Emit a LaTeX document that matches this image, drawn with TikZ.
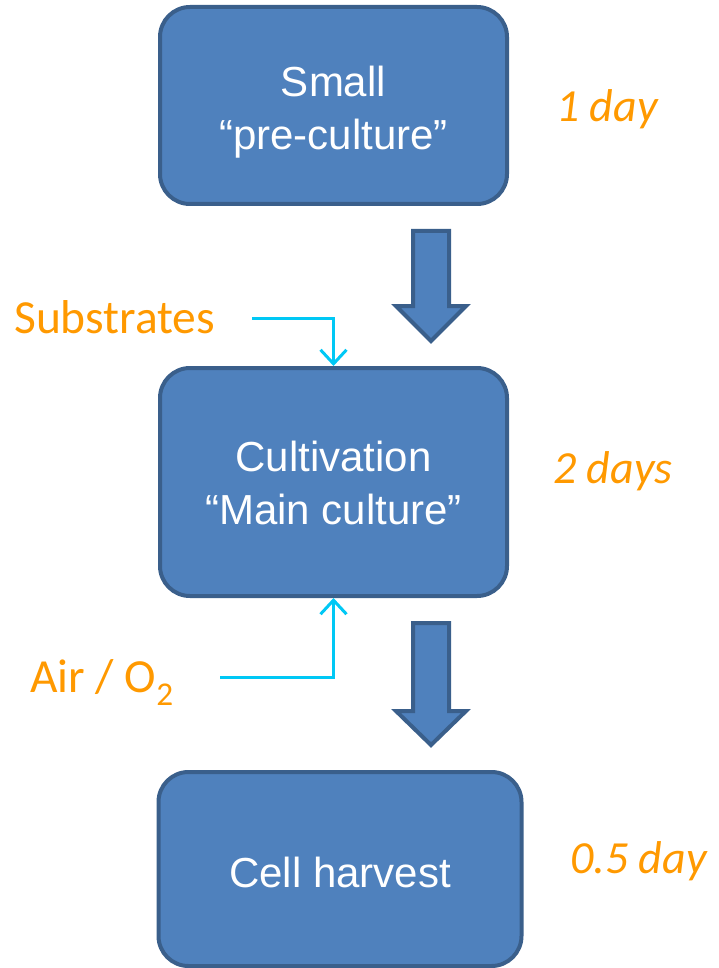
\documentclass[tikz,border=0pt]{standalone}
\usepackage{fontspec}
\setmainfont{Liberation Sans}
\newfontfamily\calib{Carlito}
\usetikzlibrary{arrows.meta}
\definecolor{boxfill}{HTML}{4F81BD}
\definecolor{boxline}{HTML}{3A5F8B}
\definecolor{orng}{HTML}{FF9900}
\definecolor{cyn}{HTML}{00C8F5}
\tikzset{
  stepbox/.style={draw=boxline, line width=4pt, fill=boxfill, rounded corners=30pt, inner sep=0pt},
  boxtext/.style={text=white, align=center, inner sep=0pt, font=\fontsize{42}{53}\selectfont},
  blockarrow/.style={draw=boxline, line width=4pt, fill=boxfill, line join=miter},
  timelabel/.style={text=orng, anchor=base west, inner sep=0pt, font=\calib\itshape\fontsize{46}{54}\selectfont},
  inlabel/.style={text=orng, anchor=base west, inner sep=0pt, font=\calib\fontsize{47.5}{54}\selectfont},
  feed/.style={draw=cyn, line width=3pt, -{Straight Barb[length=14pt,width=26pt,line width=3pt]}}
}
\begin{document}
\begin{tikzpicture}[x=1pt,y=-1pt]
\useasboundingbox (0,0) rectangle (718,968);
% boxes
\node[stepbox, minimum width=347pt, minimum height=197pt] (b1) at (333.5,105.5) {};
\node[stepbox, minimum width=347pt, minimum height=228pt] (b2) at (333.5,482) {};
\node[stepbox, minimum width=363pt, minimum height=194pt] (b3) at (340,869) {};
\node[boxtext] (b1t) at (333.5,112) {Small\\“pre-culture”};
\node[boxtext] (b2t) at (333.5,483) {Cultivation\\“Main culture”};
\node[boxtext] (b3t) at (340,872) {Cell harvest};
% block arrows
\draw[blockarrow] (413,231) -- (449,231) -- (449,306) -- (466,306) -- (431,341) -- (396,306) -- (413,306) -- cycle;
\draw[blockarrow] (413,623) -- (449,623) -- (449,711) -- (466,711) -- (431,745) -- (396,711) -- (413,711) -- cycle;
% time labels
\node[timelabel] (t1) at (556,122) {1 day};
\node[timelabel] (t2) at (553,483) {2 days};
\node[timelabel] (t3) at (570,873) {0.5 day};
% inputs
\node[inlabel] (subs) at (14,333) {Substrates};
\node[inlabel] (air) at (30,692) {Air / O\textsubscript{2}};
\coordinate (s0) at (252,318);
\coordinate (a0) at (220,677);
\draw[feed] (s0) -| (b2.north);
\draw[feed] (a0) -| (b2.south);
\end{tikzpicture}
\end{document}
